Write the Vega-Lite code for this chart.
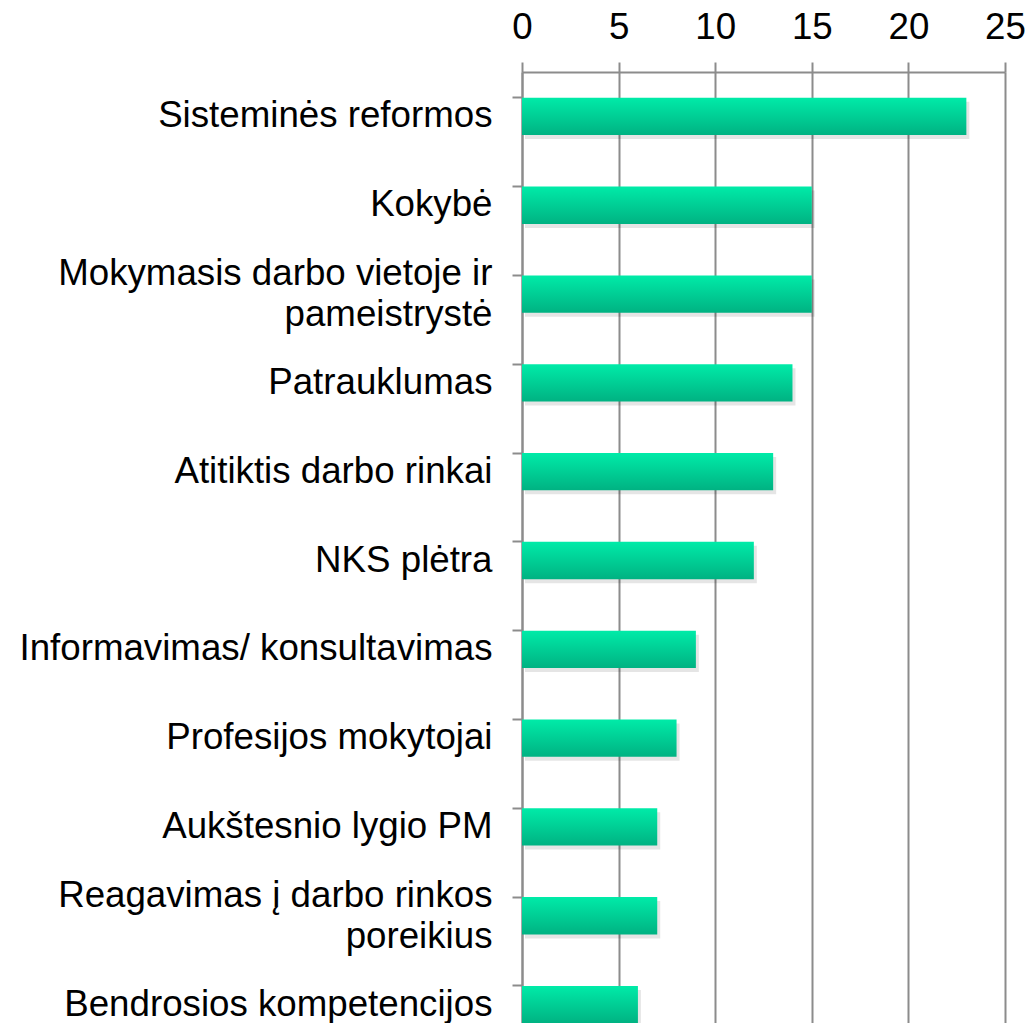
{
  "$schema": "https://vega.github.io/schema/vega-lite/v6.json",
  "autosize": {"type": "none"},
  "padding": {"left": 522, "top": 72, "right": 30, "bottom": 0},
  "width": 483,
  "height": 977,
  "background": "white",
  "config": {
    "view": {"stroke": null},
    "font": "Liberation Sans"
  },
  "data": {
    "values": [
      {"kategorija": "Sisteminės reformos", "reiksme": 23},
      {"kategorija": "Kokybė", "reiksme": 15},
      {"kategorija": "Mokymasis darbo vietoje ir|pameistrystė", "reiksme": 15},
      {"kategorija": "Patrauklumas", "reiksme": 14},
      {"kategorija": "Atitiktis darbo rinkai", "reiksme": 13},
      {"kategorija": "NKS plėtra", "reiksme": 12},
      {"kategorija": "Informavimas/ konsultavimas", "reiksme": 9},
      {"kategorija": "Profesijos mokytojai", "reiksme": 8},
      {"kategorija": "Aukštesnio lygio PM", "reiksme": 7},
      {"kategorija": "Reagavimas į darbo rinkos|poreikius", "reiksme": 7},
      {"kategorija": "Bendrosios kompetencijos", "reiksme": 6}
    ]
  },
  "encoding": {
    "y": {
      "field": "kategorija",
      "type": "nominal",
      "sort": null,
      "scale": {"paddingInner": 0.58, "paddingOuter": 0.29},
      "axis": {
        "title": null,
        "orient": "left",
        "bandPosition": 0,
        "labelExpr": "split(datum.value, '|')",
        "labelFontSize": 36.7,
        "labelColor": "#000000",
        "labelLimit": 700,
        "labelLineHeight": 41,
        "labelPadding": 20,
        "labelBaseline": "middle",
        "labelOffset": {"condition": {"test": "indexof(datum.value, '|') >= 0", "value": -20}, "value": 0},
        "tickSize": 10,
        "tickColor": "#8c8c8c",
        "tickWidth": 2,
        "domainColor": "#8c8c8c",
        "domainWidth": 2,
        "grid": false
      }
    },
    "x": {
      "field": "reiksme",
      "type": "quantitative",
      "scale": {"domain": [0, 25], "nice": false},
      "axis": {
        "title": null,
        "orient": "top",
        "values": [0, 5, 10, 15, 20, 25],
        "labelFontSize": 36.7,
        "labelColor": "#000000",
        "labelPadding": 16,
        "labelFlush": false,
        "labelOverlap": false,
        "tickSize": 10,
        "tickColor": "#8c8c8c",
        "tickWidth": 2,
        "domainColor": "#8c8c8c",
        "domainWidth": 2,
        "grid": true,
        "gridColor": "#8c8c8c",
        "gridWidth": 2
      }
    }
  },
  "layer": [
    {
      "mark": {"type": "bar", "color": "#000000", "opacity": 0.1, "xOffset": 3, "yOffset": 4}
    },
    {
      "mark": {
        "type": "bar",
        "color": {
          "gradient": "linear",
          "x1": 0, "y1": 0, "x2": 0, "y2": 1,
          "stops": [
            {"offset": 0, "color": "#00eba8"},
            {"offset": 1, "color": "#00b282"}
          ]
        }
      }
    }
  ]
}
